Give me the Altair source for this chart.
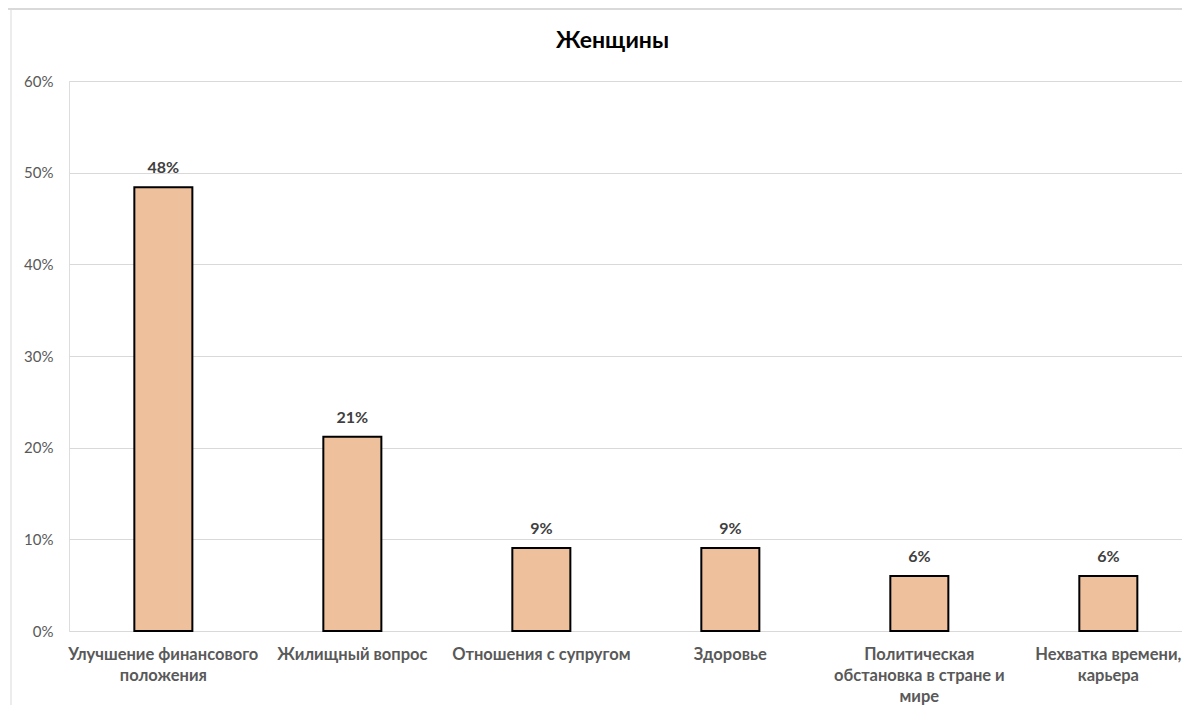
import altair as alt
import pandas as pd

FONT = "Lato"

categories = [
    "Улучшение финансового|положения",
    "Жилищный вопрос",
    "Отношения с супругом",
    "Здоровье",
    "Политическая|обстановка в стране и|мире",
    "Нехватка времени,|карьера",
]
values = [0.484, 0.212, 0.0905, 0.0905, 0.060, 0.060]
labels = ["48%", "21%", "9%", "9%", "6%", "6%"]
title_text = "Женщины"
y_ticks = [0, 0.1, 0.2, 0.3, 0.4, 0.5, 0.6]

df = pd.DataFrame({"cat": categories, "val": values, "lab": labels})
one = pd.DataFrame({"t": [title_text]})

W, H = 1113, 550
PAD_L, PAD_T, PAD_B = 61, 73, 74

x_enc = alt.X(
    "cat:N",
    sort=categories,
    title=None,
    scale=alt.Scale(paddingInner=0.693, paddingOuter=0.291, align=0.594),
    axis=alt.Axis(
        labelExpr="split(datum.label, '|')",
        labelAngle=0,
        labelFont=FONT,
        labelFontSize=16.5,
        labelFontWeight="bold",
        labelColor="#595959",
        labelPadding=15,
        labelLineHeight=21,
        labelBaseline="top",
        labelLimit=300,
        ticks=False,
        domain=False,
    ),
)
y_enc = alt.Y(
    "val:Q",
    title=None,
    scale=alt.Scale(domain=[0, 0.6], nice=False),
    axis=alt.Axis(
        values=y_ticks,
        format=".0%",
        labelFont=FONT,
        labelFontSize=15,
        labelColor="#595959",
        labelPadding=16,
        ticks=False,
        domain=False,
        grid=True,
        gridColor="#D9D9D9",
        gridWidth=1,
    ),
)

bars = alt.Chart(df).mark_bar(
    fill="#EEC09C", stroke="#000000", strokeWidth=2
).encode(x=x_enc, y=y_enc)

texts = alt.Chart(df).mark_text(
    baseline="bottom", dy=-11, font=FONT, fontSize=16, fontWeight="bold", color="#404040"
).encode(x=alt.X("cat:N", sort=categories), y=alt.Y("val:Q"), text="lab:N")

left_line = alt.Chart(one).mark_rule(color="#D9D9D9", strokeWidth=1).encode(
    x=alt.value(-58), y=alt.value(-PAD_T), y2=alt.value(H + PAD_B)
)
top_line = alt.Chart(one).mark_rule(color="#D9D9D9", strokeWidth=2).encode(
    x=alt.value(-PAD_L), x2=alt.value(W), y=alt.value(-PAD_T + 1)
)
title = alt.Chart(one).mark_text(
    font=FONT, fontSize=23, fontWeight="bold", color="#000000",
    align="center", baseline="alphabetic",
).encode(x=alt.value(543.5), y=alt.value(-33), text="t:N")

chart = (
    alt.layer(left_line, top_line, bars, texts, title)
    .properties(
        width=W,
        height=H,
        autosize=alt.AutoSizeParams(type="none"),
        padding={"left": PAD_L, "top": PAD_T, "right": 0, "bottom": PAD_B},
    )
    .configure_view(stroke=None)
    .configure(background="#FFFFFF")
)

chart.save("out.html", embed_options={"renderer": "svg", "actions": False})
